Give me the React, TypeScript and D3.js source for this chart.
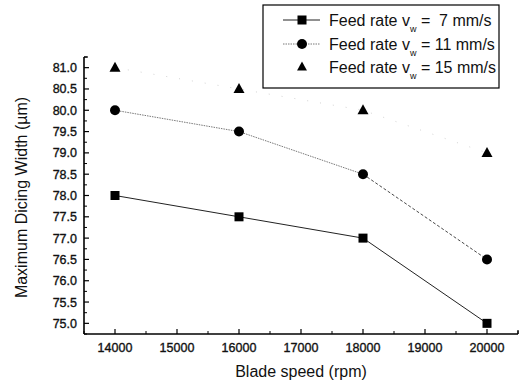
import React from "react";
import * as d3 from "d3";

const bladeSpeeds = [14000, 16000, 18000, 20000];
const width7 = [78.0, 77.5, 77.0, 75.0];
const width11 = [80.0, 79.5, 78.5, 76.5];
const width15 = [81.0, 80.5, 80.0, 79.0];
const xTicks = [14000, 15000, 16000, 17000, 18000, 19000, 20000];
const yTicks = [75.0, 75.5, 76.0, 76.5, 77.0, 77.5, 78.0, 78.5, 79.0, 79.5, 80.0, 80.5, 81.0];
const legendRates = ["7", "11", "15"];

const W = 523, H = 385;
const left = 84, right = 518, top = 57, bottom = 334;

export default function App() {
  const x = d3.scaleLinear().domain([13500, 20500]).range([left, right]);
  const y = d3.scaleLinear().domain([74.75, 81.25]).range([bottom, top]);
  const xMinor = d3.range(13500, 20501, 500).filter((v) => v % 1000 !== 0);
  const yMinor = d3.range(74.75, 81.26, 0.25).filter((v) => Math.abs((v * 2) % 1) > 0.01);
  const line = d3.line<number>().x((_, i) => x(bladeSpeeds[i])).y((d) => y(d));
  const seg = (arr: number[], a: number, b: number) =>
    `M${x(bladeSpeeds[a])},${y(arr[a])}L${x(bladeSpeeds[b])},${y(arr[b])}`;
  const font = "'Liberation Sans', Arial, sans-serif";
  const tri = (cx: number, cy: number, s: number) =>
    `M${cx},${cy - s * 0.6}L${cx + s * 0.55},${cy + s * 0.4}L${cx - s * 0.55},${cy + s * 0.4}Z`;
  const legY = [20, 44, 67];
  return (
    <svg width={W} height={H} style={{ position: "absolute", left: 0, top: 0, background: "#fff" }} fontFamily={font}>
      <rect width={W} height={H} fill="#fff" />
      {/* axes */}
      <line x1={left} x2={left} y1={top} y2={bottom} stroke="#000" strokeWidth={1.6} />
      <line x1={left} x2={right} y1={bottom} y2={bottom} stroke="#000" strokeWidth={1.6} />
      <line x1={left} x2={left + 4} y1={top} y2={top} stroke="#000" strokeWidth={1.2} />
      <line x1={right} x2={right} y1={bottom} y2={bottom - 4} stroke="#000" strokeWidth={1.2} />
      {xTicks.map((t) => (
        <g key={"xt" + t}>
          <line x1={x(t)} x2={x(t)} y1={bottom} y2={bottom - 5} stroke="#000" strokeWidth={1.2} />
          <text x={x(t)} y={bottom + 18} textAnchor="middle" fontSize={12.5} fill="#111" stroke="#111" strokeWidth={0.35}>{t}</text>
        </g>
      ))}
      {xMinor.map((t) => (
        <line key={"xm" + t} x1={x(t)} x2={x(t)} y1={bottom} y2={bottom - 3} stroke="#000" strokeWidth={1} />
      ))}
      {yTicks.map((t) => (
        <g key={"yt" + t}>
          <line x1={left} x2={left + 5} y1={y(t)} y2={y(t)} stroke="#000" strokeWidth={1.2} />
          <text x={left - 7} y={y(t) + 4.5} textAnchor="end" fontSize={12.5} fill="#111" stroke="#111" strokeWidth={0.35}>{t.toFixed(1)}</text>
        </g>
      ))}
      {yMinor.map((t) => (
        <line key={"ym" + t} x1={left} x2={left + 3} y1={y(t)} y2={y(t)} stroke="#000" strokeWidth={1} />
      ))}
      {/* axis titles */}
      <text x={301} y={377} textAnchor="middle" fontSize={16} fill="#111">Blade speed (rpm)</text>
      <text transform={`translate(27,${(top + bottom) / 2 + 2}) rotate(-90)`} textAnchor="middle" fontSize={16} fill="#111">
        Maximum Dicing Width (µm)
      </text>
      {/* series lines */}
      <path d={line(width15) || ""} fill="none" stroke="#c8c8c8" strokeWidth={0.8} strokeDasharray="1,12" />
      <path d={seg(width11, 0, 1) + seg(width11, 1, 2)} fill="none" stroke="#555" strokeWidth={0.8} strokeDasharray="1.5,1" />
      <path d={seg(width11, 2, 3)} fill="none" stroke="#333" strokeWidth={0.9} strokeDasharray="3,2" />
      <path d={line(width7) || ""} fill="none" stroke="#222" strokeWidth={1} />
      {/* markers */}
      {bladeSpeeds.map((s, i) => (
        <g key={"m" + s}>
          <rect x={x(s) - 4.5} y={y(width7[i]) - 4.5} width={9} height={9} fill="#000" />
          <circle cx={x(s)} cy={y(width11[i])} r={5} fill="#000" />
          <path d={tri(x(s), y(width15[i]), 10)} fill="#000" />
        </g>
      ))}
      {/* legend */}
      <rect x={263} y={5} width={236} height={83} fill="#fff" stroke="#000" strokeWidth={1.2} />
      {legendRates.map((r, i) => (
        <g key={"l" + r}>
          {i === 0 && <line x1={283} x2={320} y1={legY[i]} y2={legY[i]} stroke="#222" strokeWidth={1} />}
          {i === 1 && <line x1={283} x2={320} y1={legY[i]} y2={legY[i]} stroke="#555" strokeWidth={0.8} strokeDasharray="1.5,1" />}
          {i === 0 && <rect x={297.5} y={legY[i] - 4.5} width={9} height={9} fill="#000" />}
          {i === 1 && <circle cx={302} cy={legY[i]} r={5} fill="#000" />}
          {i === 2 && <path d={tri(302, legY[i], 9)} fill="#000" />}
          <text x={329} y={legY[i] + 6} fontSize={16} fill="#111" style={{ whiteSpace: "pre" }}>
            Feed rate v
            <tspan fontSize={9} dy={6}>w</tspan>
            <tspan dy={-6}>{r === "7" ? " =  7 mm/s" : ` = ${r} mm/s`}</tspan>
          </text>
        </g>
      ))}
    </svg>
  );
}
